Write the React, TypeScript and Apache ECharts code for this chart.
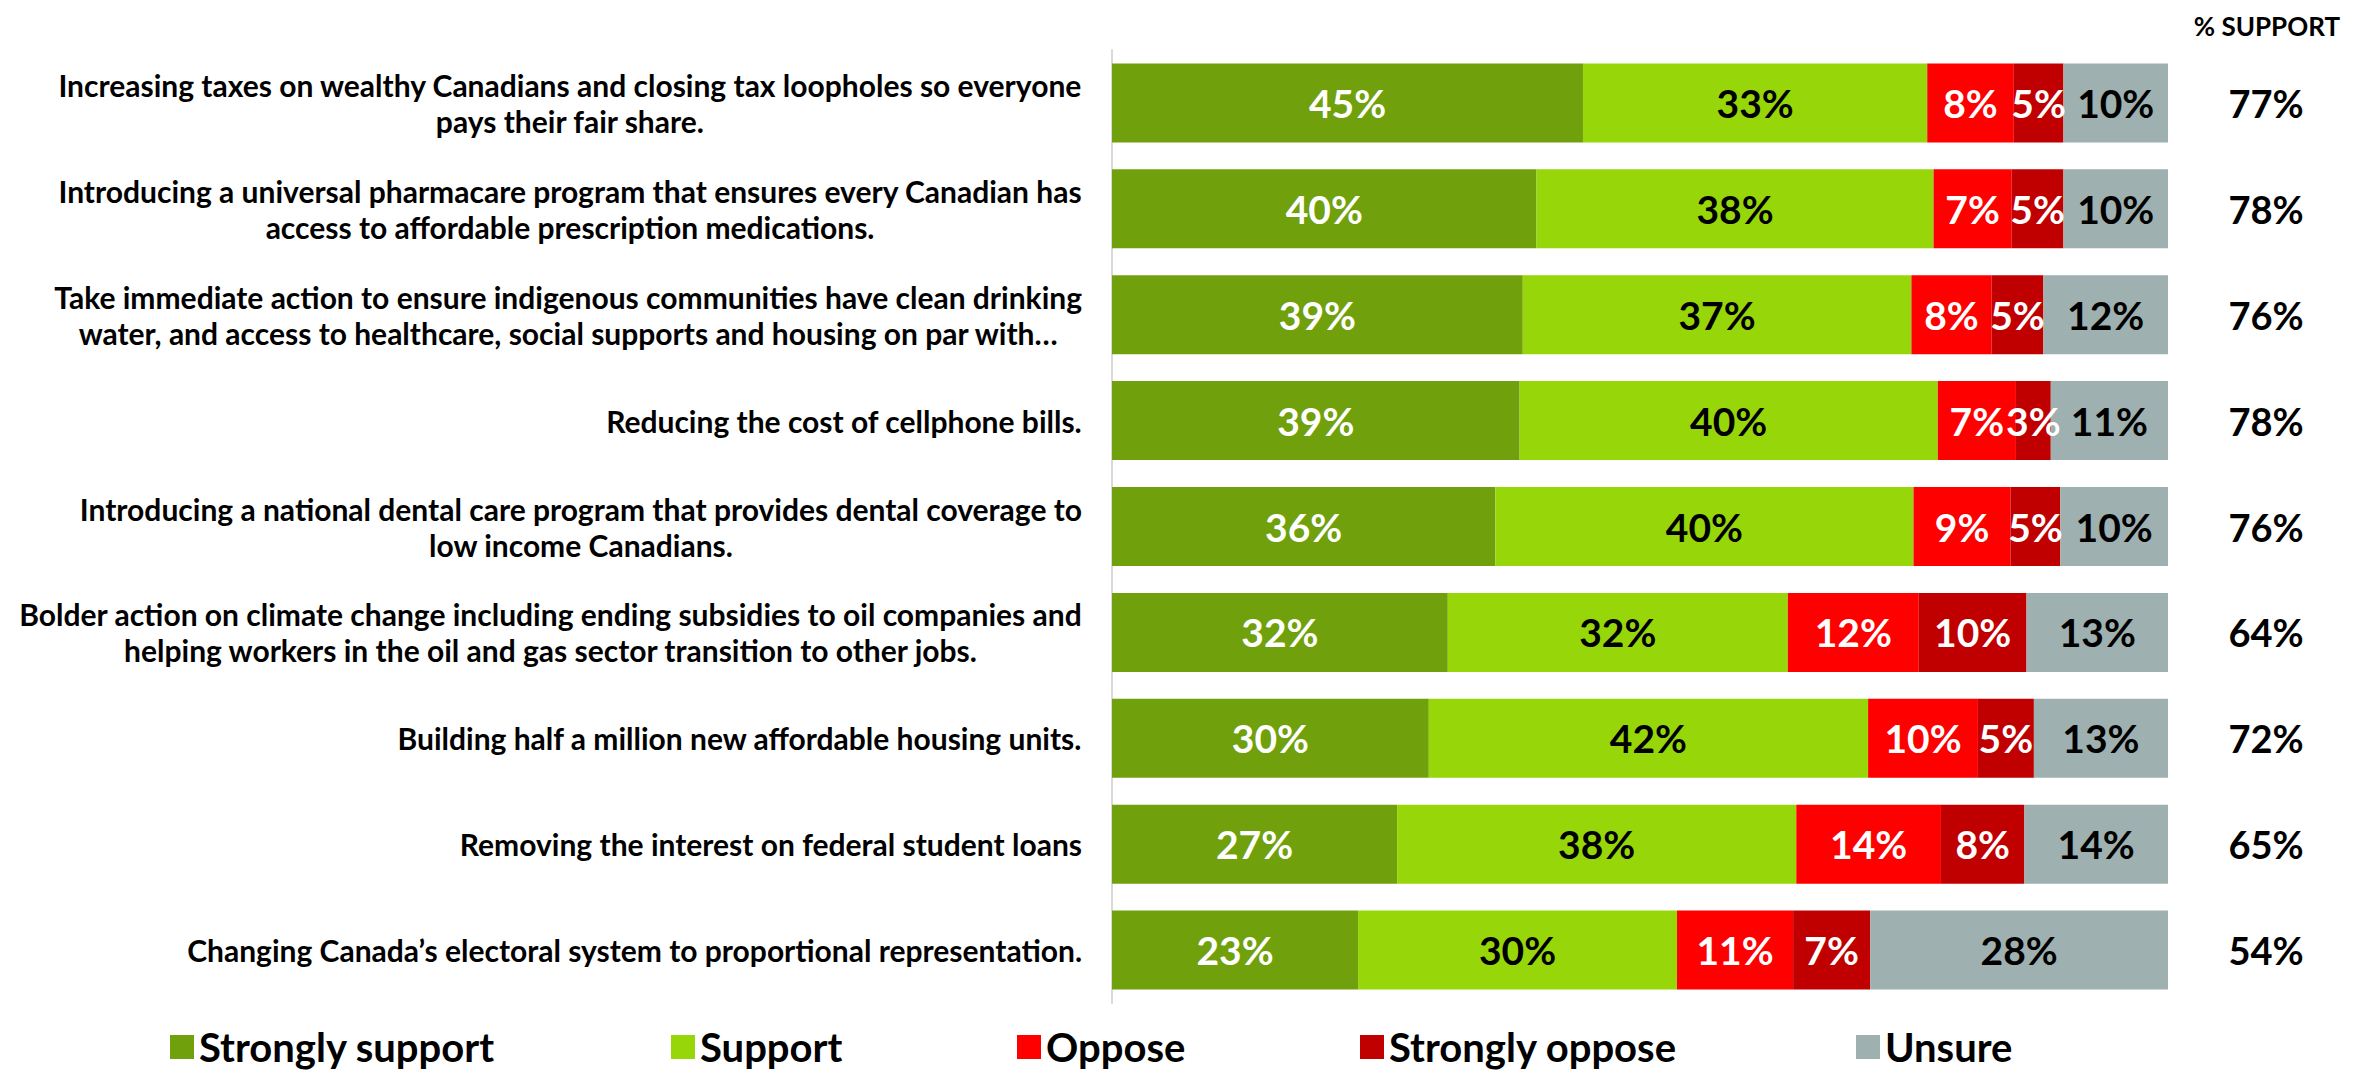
import React, { useEffect, useRef } from "react";
import * as echarts from "echarts";

const categories: string[] = [
  "Increasing taxes on wealthy Canadians and closing tax loopholes so everyone\npays their fair share.",
  "Introducing a universal pharmacare program that ensures every Canadian has\naccess to affordable prescription medications.",
  "Take immediate action to ensure indigenous communities have clean drinking\nwater, and access to healthcare, social supports and housing on par with…",
  "Reducing the cost of cellphone bills.",
  "Introducing a national dental care program that provides dental coverage to\nlow income Canadians.",
  "Bolder action on climate change including ending subsidies to oil companies and\nhelping workers in the oil and gas sector transition to other jobs.",
  "Building half a million new affordable housing units.",
  "Removing the interest on federal student loans",
  "Changing Canada’s electoral system to proportional representation.",
];

const stronglySupport = [44.6, 40.2, 38.9, 38.6, 36.3, 31.8, 30.0, 27.0, 23.3];
const support = [32.6, 37.6, 36.8, 39.6, 39.6, 32.2, 41.6, 37.8, 30.2];
const oppose = [8.2, 7.4, 7.6, 7.4, 9.2, 12.4, 10.4, 13.7, 11.0];
const stronglyOppose = [4.7, 4.9, 4.9, 3.3, 4.7, 10.2, 5.3, 7.9, 7.3];
const unsure = [9.9, 9.9, 11.8, 11.1, 10.2, 13.4, 12.7, 13.6, 28.2];
const totalSupport = ["77%", "78%", "76%", "78%", "76%", "64%", "72%", "65%", "54%"];

const seriesNames = ["Strongly support", "Support", "Oppose", "Strongly oppose", "Unsure"];
const seriesColors = ["#70A10C", "#97D70A", "#FF0000", "#C00000", "#9EB0AF"];
const labelColors = ["#FFFFFF", "#000000", "#FFFFFF", "#FFFFFF", "#000000"];
const seriesData = [stronglySupport, support, oppose, stronglyOppose, unsure];
const legendLefts = [165, 666, 1012, 1355, 1851];

const FONT = "Lato, 'DejaVu Sans', sans-serif";

export default function App() {
  const ref = useRef<HTMLDivElement>(null);
  useEffect(() => {
    if (!ref.current) return;
    const chart = echarts.init(ref.current, undefined, { renderer: "svg" });
    chart.setOption({
      animation: false,
      backgroundColor: "#FFFFFF",
      textStyle: { fontFamily: FONT },
      title: {
        text: "% SUPPORT",
        right: 24,
        top: 8,
        textStyle: { fontFamily: FONT, fontSize: 26, fontWeight: "bold", color: "#000" },
      },
      legend: seriesNames.map((n, i) => ({
        data: [n],
        left: legendLefts[i],
        top: 1022,
        itemWidth: 24,
        itemHeight: 24,
        itemGap: 10,
        icon: "rect",
        textStyle: { fontFamily: FONT, fontSize: 40, fontWeight: "bold", color: "#000" },
      })),
      grid: { left: 1112, top: 50, width: 1056, height: 953, containLabel: false },
      xAxis: { type: "value", min: 0, max: 100, show: false },
      yAxis: [
        {
          type: "category",
          inverse: true,
          data: categories,
          axisLine: { show: true, lineStyle: { color: "#D9D9D9", width: 2 } },
          axisTick: { show: false },
          axisLabel: {
            margin: 30,
            align: "right",
            formatter: (v: string) => v.split("\n").map((l) => `{c|${l}}`).join("\n"),
            rich: {
              c: {
                align: "center",
                fontFamily: FONT,
                fontSize: 30,
                fontWeight: "bold",
                color: "#000",
                lineHeight: 36,
              },
            },
          },
        },
        {
          type: "category",
          inverse: true,
          position: "right",
          data: totalSupport,
          axisLine: { show: false },
          axisTick: { show: false },
          axisLabel: {
            margin: 98,
            align: "center",
            fontFamily: FONT,
            fontSize: 38,
            fontWeight: "bold",
            color: "#000",
          },
        },
      ],
      series: seriesNames.map((n, i) => ({
        name: n,
        type: "bar",
        stack: "total",
        barWidth: 79,
        yAxisIndex: 0,
        itemStyle: { color: seriesColors[i] },
        label: {
          show: true,
          position: "inside",
          formatter: (p: any) => `${Math.round(p.value)}%`,
          color: labelColors[i],
          fontFamily: FONT,
          fontSize: 39,
          fontWeight: "bold",
        },
        data: seriesData[i],
      })),
    });
    return () => chart.dispose();
  }, []);
  return (
    <div
      ref={ref}
      style={{ position: "fixed", left: 0, top: 0, width: 2369, height: 1071 }}
    />
  );
}
